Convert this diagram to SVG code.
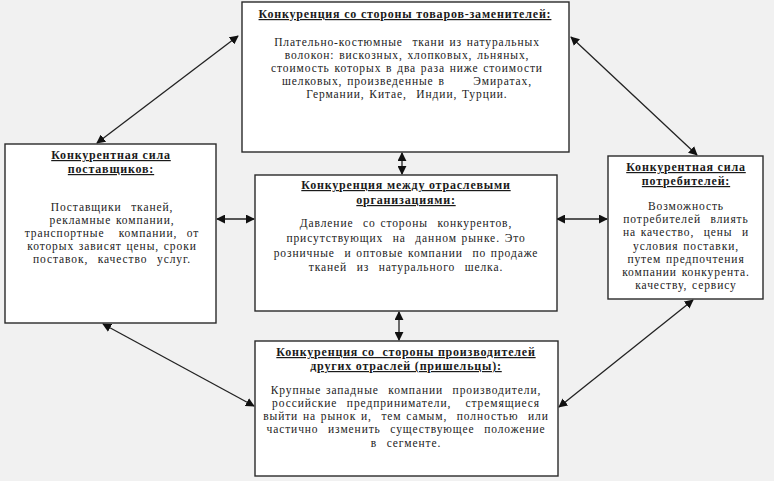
<svg xmlns="http://www.w3.org/2000/svg" width="774" height="481" viewBox="0 0 774 481">
<style>
.box{fill:#ffffff;stroke:#2a2a2a;stroke-width:1.4}
text{white-space:pre}
.h{font-family:"Liberation Serif","Times New Roman",serif;font-size:12px;letter-spacing:0.8px;font-weight:bold;fill:#1a1a1a;text-anchor:middle;text-decoration:underline}
.t{font-family:"Liberation Serif","Times New Roman",serif;font-size:11.5px;letter-spacing:0.9px;word-spacing:1px;fill:#222;text-anchor:middle}
.c{stroke:#222;stroke-width:1.3;fill:none;marker-start:url(#a);marker-end:url(#a)}
</style>
<defs>
<marker id="a" viewBox="0 0 10 10" refX="9" refY="5" markerWidth="9" markerHeight="9" markerUnits="userSpaceOnUse" orient="auto-start-reverse">
<path d="M0,0 L10,5 L0,10 Z" fill="#111"/>
</marker>
</defs>
<rect x="0" y="0" width="774" height="481" fill="#f1f1f1"/>
<g id="connectors">
<line class="c" x1="238" y1="36" x2="97" y2="143"/>
<line class="c" x1="571" y1="37" x2="697" y2="155"/>
<line class="c" x1="402" y1="153" x2="402" y2="174"/>
<line class="c" x1="217" y1="219" x2="254" y2="219"/>
<line class="c" x1="557" y1="219" x2="607" y2="219"/>
<line class="c" x1="399" y1="312" x2="399" y2="340"/>
<line class="c" x1="103" y1="324" x2="254" y2="406"/>
<line class="c" x1="693" y1="300" x2="559" y2="407"/>
</g>
<g id="substitutes">
<rect class="box" x="242" y="2" width="327" height="150"/>
<text class="h" x="405" y="18">Конкуренция со стороны товаров-заменителей:</text>
<text class="t" x="407" y="46">Плательно-костюмные  ткани из натуральных</text>
<text class="t" x="407" y="59">волокон: вискозных, хлопковых, льняных,</text>
<text class="t" x="407" y="72">стоимость которых в два раза ниже стоимости</text>
<text class="t" x="407" y="85">шелковых, произведенные в      Эмиратах,</text>
<text class="t" x="407" y="98">Германии, Китае,  Индии, Турции.</text>
</g>
<g id="suppliers">
<rect class="box" x="5" y="144" width="211" height="179"/>
<text class="h" x="111" y="159">Конкурентная сила</text>
<text class="h" x="111" y="173">поставщиков:</text>
<text class="t" x="112" y="211">Поставщики  тканей,</text>
<text class="t" x="112" y="224">рекламные компании,</text>
<text class="t" x="112" y="237">транспортные   компании,  от</text>
<text class="t" x="112" y="250">которых зависят цены, сроки</text>
<text class="t" x="112" y="263">поставок,  качество  услуг.</text>
</g>
<g id="industry">
<rect class="box" x="255" y="175" width="302" height="136"/>
<text class="h" x="406" y="189">Конкуренция между отраслевыми</text>
<text class="h" x="406" y="204">организациями:</text>
<text class="t" x="406" y="227">Давление  со стороны  конкурентов,</text>
<text class="t" x="406" y="242">присутствующих  на  данном рынке. Это</text>
<text class="t" x="406" y="257">розничные  и оптовые компании  по продаже</text>
<text class="t" x="406" y="271">тканей  из  натурального  шелка.</text>
</g>
<g id="consumers">
<rect class="box" x="608" y="156" width="155" height="143"/>
<text class="h" x="686" y="171">Конкурентная сила</text>
<text class="h" x="686" y="185">потребителей:</text>
<text class="t" x="686" y="210">Возможность</text>
<text class="t" x="686" y="223">потребителей  влиять</text>
<text class="t" x="686" y="236">на качество,  цены  и</text>
<text class="t" x="686" y="250">условия поставки,</text>
<text class="t" x="686" y="263">путем предпочтения</text>
<text class="t" x="686" y="276">компании конкурента.</text>
<text class="t" x="686" y="289">качеству, сервису</text>
</g>
<g id="newcomers">
<rect class="box" x="255" y="341" width="303" height="135"/>
<text class="h" x="406" y="356">Конкуренция со  стороны производителей</text>
<text class="h" x="406" y="370">других отраслей (пришельцы):</text>
<text class="t" x="406" y="394">Крупные западные  компании  производители,</text>
<text class="t" x="406" y="407">российские  предприниматели,   стремящиеся</text>
<text class="t" x="406" y="420">выйти на рынок и,  тем самым,  полностью  или</text>
<text class="t" x="406" y="433">частично  изменить  существующее  положение</text>
<text class="t" x="406" y="447">в  сегменте.</text>
</g>
</svg>
